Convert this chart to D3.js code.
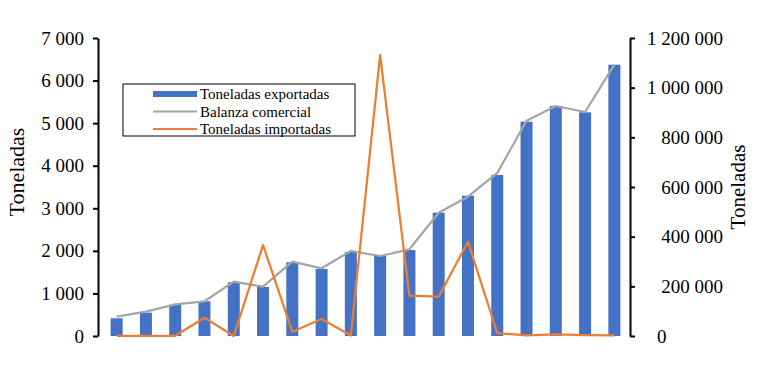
<!DOCTYPE html>
<html>
<head>
<meta charset="utf-8">
<script src="https://cdn.jsdelivr.net/npm/d3@7"></script>
<style>
  html, body { margin: 0; padding: 0; background: #fff; }
  svg { display: block; }
  svg text { font-family: 'Liberation Serif', 'Times New Roman', serif !important; fill: #000; }
</style>
</head>
<body>
<svg id="chart" width="765" height="392"></svg>
<script>
// ---- data ----
const categories = ["1","2","3","4","5","6","7","8","9","10","11","12","13","14","15","16","17","18"];
const exportadas = [416, 548, 728, 815, 1261, 1151, 1731, 1574, 1973, 1879, 2020, 2897, 3296, 3782, 5035, 5403, 5254, 6373];
const balanza = [77700, 97900, 127600, 139700, 218700, 198500, 299200, 272600, 342300, 322100, 349100, 496500, 561000, 656400, 867000, 926200, 902000, 1092500];
const importadas = [1000, 1000, 1000, 73700, 0, 366400, 17300, 68500, 2000, 1131500, 162300, 158300, 379700, 12000, 2800, 6800, 4000, 2800];
const leftTicks = [0, 1000, 2000, 3000, 4000, 5000, 6000, 7000];
const rightTicks = [0, 200000, 400000, 600000, 800000, 1000000, 1200000];
const legendLabels = ["Toneladas exportadas", "Balanza comercial", "Toneladas importadas"];
const axisTitle = "Toneladas";

// ---- layout ----
const svg = d3.select("#chart");
const plotTop = 38, plotBottom = 336, leftX = 98, rightX = 630;
const colors = { bar: "#4472C4", gray: "#A5A5A5", orange: "#ED7D31" };

const locale = d3.formatLocale({ decimal: ",", thousands: " ", grouping: [3], currency: ["", ""] });
const fmt = locale.format(",");

const x = d3.scaleBand().domain(categories).range([102, 629]).paddingInner(0.59).paddingOuter(0.295);
const yL = d3.scaleLinear().domain([0, 7000]).range([plotBottom, plotTop]);
const yR = d3.scaleLinear().domain([0, 1200000]).range([plotBottom, plotTop]);

// bars
svg.append("g").selectAll("rect").data(exportadas).join("rect")
  .attr("x", (d, i) => x(categories[i]))
  .attr("width", x.bandwidth())
  .attr("y", d => yL(d))
  .attr("height", d => yL(0) - yL(d))
  .attr("fill", colors.bar);

const cx = i => x(categories[i]) + x.bandwidth() / 2;
const lineR = d3.line().x((d, i) => cx(i)).y(d => yR(d));

svg.append("path").datum(balanza).attr("d", lineR)
  .attr("fill", "none").attr("stroke", colors.gray).attr("stroke-width", 2.25).attr("stroke-linejoin", "round");
svg.append("path").datum(importadas).attr("d", lineR)
  .attr("fill", "none").attr("stroke", colors.orange).attr("stroke-width", 2.25).attr("stroke-linejoin", "round");

// left axis
const gL = svg.append("g").attr("transform", `translate(${leftX},0)`)
  .call(d3.axisLeft(yL).tickValues(leftTicks).tickSize(5).tickSizeOuter(0).tickPadding(9).tickFormat(fmt));
// right axis
const gR = svg.append("g").attr("transform", `translate(${rightX},0)`)
  .call(d3.axisRight(yR).tickValues(rightTicks).tickSize(5).tickSizeOuter(0).tickPadding(9).tickFormat(fmt));

[gL, gR].forEach(g => {
  g.attr("font-family", null);
  g.select(".domain").attr("stroke", "#000").attr("stroke-width", 2);
  g.selectAll(".tick line").attr("stroke", "#000").attr("stroke-width", 2);
  g.selectAll(".tick text").attr("font-size", 19).attr("fill", "#000");
});
gR.selectAll(".tick text")
  .attr("text-anchor", d => d === 0 ? "start" : "end")
  .attr("x", d => d === 0 ? 27 : 93);

// axis titles
svg.append("text").attr("transform", `translate(24,172) rotate(-90)`)
  .attr("text-anchor", "middle").attr("font-size", 22).text(axisTitle);
svg.append("text").attr("transform", `translate(745,187) rotate(-90)`)
  .attr("text-anchor", "middle").attr("font-size", 21).text(axisTitle);

// legend
const lg = svg.append("g");
lg.append("rect").attr("x", 123).attr("y", 84).attr("width", 232).attr("height", 52)
  .attr("fill", "#fff").attr("stroke", "#000").attr("stroke-width", 1);
const rowsY = [94, 111.5, 129];
const swX0 = 153, swX1 = 197;
lg.append("rect").attr("x", swX0).attr("y", rowsY[0] - 3).attr("width", swX1 - swX0).attr("height", 6).attr("fill", colors.bar);
lg.append("line").attr("x1", swX0).attr("x2", swX1).attr("y1", rowsY[1]).attr("y2", rowsY[1])
  .attr("stroke", colors.gray).attr("stroke-width", 2);
lg.append("line").attr("x1", swX0).attr("x2", swX1).attr("y1", rowsY[2]).attr("y2", rowsY[2])
  .attr("stroke", colors.orange).attr("stroke-width", 2);
lg.selectAll("text.lbl").data(legendLabels).join("text").attr("class", "lbl")
  .attr("x", 200).attr("y", (d, i) => rowsY[i]).attr("dy", "0.35em")
  .attr("font-size", 15).text(d => d);
</script>
</body>
</html>
